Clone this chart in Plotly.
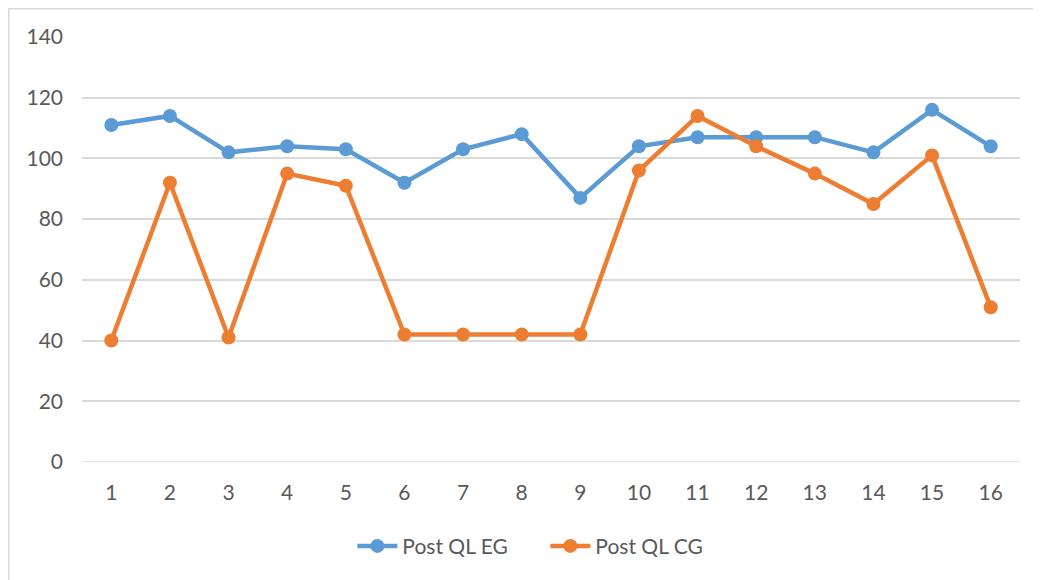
import plotly.graph_objects as go

categories = [str(i) for i in range(1, 17)]
post_ql_eg = [111, 114, 102, 104, 103, 92, 103, 108, 87, 104, 107, 107, 107, 102, 116, 104]
post_ql_cg = [40, 92, 41, 95, 91, 42, 42, 42, 42, 96, 114, 104, 95, 85, 101, 51]
y_ticks = [0, 20, 40, 60, 80, 100, 120, 140]

BLUE = "#5B9BD5"
ORANGE = "#ED7D31"
FONT = "Lato, 'Open Sans', sans-serif"

fig = go.Figure()
fig.add_trace(go.Scatter(x=categories, y=post_ql_eg, mode="lines+markers", name="Post QL EG",
                         line=dict(color=BLUE, width=4.5), marker=dict(color=BLUE, size=14)))
fig.add_trace(go.Scatter(x=categories, y=post_ql_cg, mode="lines+markers", name="Post QL CG",
                         line=dict(color=ORANGE, width=4.5), marker=dict(color=ORANGE, size=14)))

fig.update_layout(
    width=1041, height=580,
    margin=dict(l=74, r=29, t=29, b=126),
    paper_bgcolor="white", plot_bgcolor="white",
    font=dict(family=FONT, size=21, color="#595959"),
    showlegend=True,
    legend=dict(orientation="h", x=0.494, xanchor="center", y=-0.15, yanchor="top",
                font=dict(size=21, color="#595959"), itemwidth=40, entrywidth=138),
    xaxis=dict(type="category", range=[-0.5, 15.5], showgrid=False, zeroline=False,
               showline=False, ticks="", ticklabelstandoff=16),
    yaxis=dict(range=[0, 140], tickvals=y_ticks, showgrid=True, gridcolor="#D9D9D9",
               gridwidth=1.5, zeroline=False, showline=False, ticks="", ticklabelstandoff=18),
    shapes=[dict(type="rect", xref="paper", yref="paper", x0=-0.0781, x1=1.1, y0=-0.5, y1=1.0665,
                 line=dict(color="#D9D9D9", width=1.5), fillcolor="rgba(0,0,0,0)", layer="below")],
)
fig.add_shape(type="line", xref="paper", yref="y", x0=0, x1=1, y0=0, y1=0,
              line=dict(color="#D9D9D9", width=1.5), layer="below")

fig.write_html("out.html")
